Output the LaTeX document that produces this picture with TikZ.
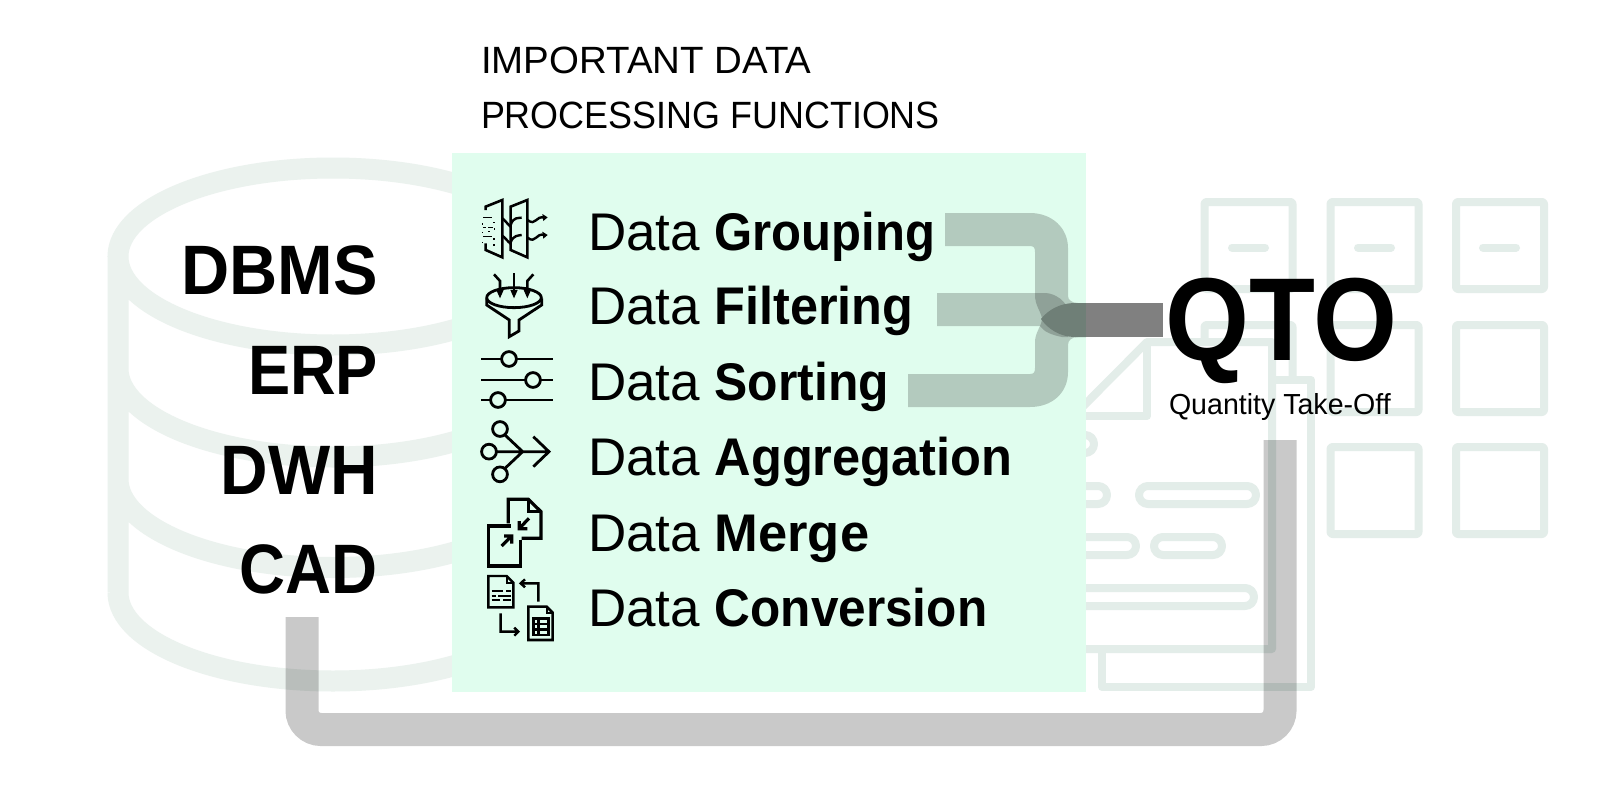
\documentclass[tikz,border=0pt]{standalone}
\usepackage{graphicx}
\usepackage{fontspec}
\setmainfont{Liberation Sans}
\definecolor{panelc}{HTML}{E0FDEE}
\definecolor{cyl}{HTML}{EBF2EE}
\definecolor{docc}{HTML}{E3EDE9}
\definecolor{mainon}{HTML}{6F7F77}
\definecolor{mainoff}{HTML}{808080}
\newcommand{\sq}[2]{\scalebox{#1}[1]{#2}}
\newcommand{\dt}[2]{Data \scalebox{#1}[1]{\textbf{#2}}}
\tikzset{
  every node/.style={inner sep=0pt,outer sep=0pt,text=black},
  cylline/.style={draw=cyl,line width=21pt},
  docline/.style={draw=docc,line width=8pt,line join=round},
  pagefill/.style={docline,fill=white},
  pill/.style={docline,rounded corners=9pt},
  conn/.style={fill=black,fill opacity=0.2},
  connline/.style={draw=black,draw opacity=0.21,line width=33pt,rounded corners=19pt},
  icon/.style={draw=black,line width=2.8pt,line join=miter},
  srcname/.style={anchor=base east,font=\fontsize{70}{70}\selectfont\bfseries},
  func/.style={anchor=base west,font=\fontsize{53}{53}\selectfont},
  heading/.style={anchor=base west,font=\fontsize{38}{38}\selectfont},
}
\begin{document}
\begin{tikzpicture}[x=1pt,y=-1pt]
\useasboundingbox (0,0) rectangle (1600,803);
\fill[white] (0,0) rectangle (1600,803);
% cylinder
\draw[cylline] (333,256.5) ellipse [x radius=215pt,y radius=88.5pt]
  (118,256.5) -- (118,592.5)
  (118,368.5) arc[start angle=180,end angle=360,x radius=215pt,y radius=88.5pt]
  (118,479) arc[start angle=180,end angle=360,x radius=215pt,y radius=88.5pt]
  (118,592.5) arc[start angle=180,end angle=360,x radius=215pt,y radius=88.5pt];
% squares
\foreach \sx/\sy in {1204.5/202,1330.5/202,1456/202,1204.5/325,1330.5/325,1456/325,1330.5/447,1456/447}
  \draw[docline,rounded corners=2pt] (\sx,\sy) rectangle +(88,87);
\foreach \sx in {1232,1358,1483}
  \draw[docc,line width=8pt,line cap=round] (\sx,247.5) -- +(33,0);
% document
\draw[pagefill] (1102,649) -- (1102,687) -- (1311,687) -- (1311,380) -- (1230,380) -- (1230,649) -- cycle;
\draw[pagefill] (1147,342) -- (1272,342) -- (1272,649) -- (1000,649) -- (1000,490) -- cycle;
\draw[docline] (1147,342) -- (1147,416) -- (1060,416);
\draw[pill] (1139,486) rectangle (1256,504);
\draw[pill] (1040,486) rectangle (1107,504);
\draw[pill] (1154,537) rectangle (1222,555);
\draw[pill] (1040,537) rectangle (1136,555);
\draw[pill] (1040,588) rectangle (1254,606);
\draw[pill] (1040,435) rectangle (1094,453);
% panel
\fill[panelc] (452,153) rectangle (1086,692);
% connectors
\coordinate (cadout) at (302,617);
\coordinate (cadbend) at (302,729.5);
\coordinate (qtobend) at (1280,729.5);
\coordinate (qtoin) at (1280,440);
\draw[connline] (cadout) -- (cadbend) -- (qtobend) -- (qtoin);
\fill[conn] (945,213) -- (1030,213) .. controls (1052,213) and (1068,228) .. (1068,248)
  -- (1068,296) .. controls (1068,300) and (1072,303) .. (1078,303) -- (1078,337)
  .. controls (1072,337) and (1068,340) .. (1068,345) -- (1068,372)
  .. controls (1068,393) and (1052,407) .. (1030,407) -- (908,407) -- (908,374) -- (1030,374)
  .. controls (1034,374) and (1035,372) .. (1035,368) -- (1035,342)
  .. controls (1035,332) and (1042,326) .. (1042,318)
  .. controls (1040,310) and (1035,305) .. (1035,295) -- (1035,252)
  .. controls (1035,248) and (1034,246) .. (1030,246) -- (945,246) -- cycle;
\fill[conn] (937,293) -- (1045,293) .. controls (1055,293) and (1068,302) .. (1068,312)
  -- (1068,337) -- (1062,337) .. controls (1052,335) and (1044,332) .. (1040,326) -- (937,326) -- cycle;
\fill[mainon] (1086,303) -- (1075,303) .. controls (1060,303) and (1048,310) .. (1041,319)
  .. controls (1048,329) and (1060,337) .. (1075,337) -- (1086,337) -- cycle;
\fill[mainoff] (1086,303) rectangle (1163,337);
% text
\node[heading] (h1) at (481,73) {\sq{1.012}{IMPORTANT DATA}};
\node[heading] (h2) at (481,128) {\sq{.945}{PROCESSING FUNCTIONS}};
\node[srcname] (dbms) at (378,294) {\sq{.953}{DBMS}};
\node[srcname] (erp) at (378,394) {\sq{.903}{ERP}};
\node[srcname] (dwh) at (378,494) {\sq{.94}{DWH}};
\node[srcname] (cad) at (378,593) {\sq{.91}{CAD}};
\node[func] (f1) at (588,250) {\dt{.925}{Grouping}};
\node[func] (f2) at (588,324.5) {\dt{.951}{Filtering}};
\node[func] (f3) at (588,400) {\dt{.94}{Sorting}};
\node[func] (f4) at (588,475.5) {\dt{.954}{Aggregation}};
\node[func] (f5) at (588,551) {\dt{.99}{Merge}};
\node[func] (f6) at (588,626.5) {\dt{.935}{Conversion}};
\node[anchor=base west,font=\fontsize{118}{118}\selectfont\bfseries] (qto) at (1165,360) {\sq{.915}{QTO}};
\node[anchor=base west,font=\fontsize{29}{29}\selectfont] (qtosub) at (1169,414) {\sq{.985}{Quantity Take-Off}};
% icons: grouping and funnel
\begin{scope}[shift={(480,195)},x=0.3333pt,y=-0.3333pt]
\draw[icon,line width=2.6pt] (17,45) -- (17,35) -- (67,15) -- (67,187) -- (17,165) -- (17,145);
\draw[icon,line width=2.6pt] (92,35) -- (142,15) -- (142,187) -- (92,165) -- cycle;
\draw[icon,line width=2.4pt] (67,70) .. controls (85,85) and (90,100) .. (92,90) .. controls (100,65) and (115,70) .. (125,68);
\draw[icon,line width=2.4pt] (67,122) .. controls (85,137) and (90,150) .. (92,142) .. controls (100,120) and (115,122) .. (125,120);
\draw[icon,line width=2.4pt] (142,75) .. controls (170,95) and (165,60) .. (195,68);
\draw[icon,line width=2.4pt] (142,128) .. controls (170,148) and (165,112) .. (195,120);
\fill (187,57) -- (203,67) -- (190,78) -- cycle;
\fill (187,110) -- (203,120) -- (190,131) -- cycle;
\foreach \dx/\dy/\dw in {8/65/28,8/95/10,25/95/14,8/122/28,28/65/4}
  \fill (\dx,\dy) rectangle +(\dw,5);
\foreach \dx/\dy in {5/85,40/80,42/100,5/110,40/130,5/140,40/148,25/108}
  \fill (\dx,\dy) rectangle +(4,4);
% funnel
\draw[icon] (102,308) ellipse [x radius=27.3pt,y radius=10pt];
\draw[icon] (20,310) -- (20,330) -- (88,375) -- (88,425) -- (117,408) -- (117,375) -- (185,330) -- (185,310);
\draw[icon,line width=2.6pt] (102,235) -- (102,298);
\draw[icon,line width=2.6pt] (42,238) -- (60,258) -- (60,298);
\draw[icon,line width=2.6pt] (160,238) -- (142,258) -- (142,298);
\foreach \ax in {60,102,142}
  \fill (\ax-11,285) -- (\ax+11,285) -- (\ax,310) -- cycle;
\end{scope}
% sliders
\draw[icon] (481,359) -- (553,359) (481,380) -- (553,380) (481,400) -- (553,400);
\foreach \cx/\cy in {509/359,533/380,498/400}
  \draw[icon,fill=panelc] (\cx,\cy) circle[radius=7.4pt];
% aggregation
\begin{scope}[shift={(450,400)},x=0.3333pt,y=-0.3333pt]
\draw[icon] (165,105) -- (218,155) -- (165,205) (138,155) -- (295,155) (250,110) -- (297,155) -- (250,200);
\foreach \cx/\cy in {150/87,117/155,150/223}
  \draw[icon] (\cx,\cy) circle[radius=7.4pt];
\end{scope}
% merge and conversion
\begin{scope}[shift={(480,490)},x=0.3333pt,y=-0.3333pt]
\draw[icon,line width=3.2pt] (85,100) -- (85,28) -- (145,28) -- (183,65) -- (183,145) -- (125,145);
\draw[icon,line width=2.6pt] (145,28) -- (145,65) -- (183,65);
\draw[icon,line width=3.2pt] (92,108) -- (25,108) -- (25,228) -- (122,228) -- (122,150);
\draw[icon,line width=3.2pt] (147,85) -- (120,113) (118,93) -- (118,116) -- (142,116);
\draw[icon,line width=3.2pt] (65,168) -- (93,140) (72,138) -- (95,138) -- (95,161);
\draw[icon,line width=2.4pt] (25,258) -- (80,258) -- (100,278) -- (100,352) -- (25,352) -- cycle;
\draw[icon,line width=2pt] (80,258) -- (80,278) -- (100,278);
\draw[icon,line width=2pt] (35,303) -- (70,303) (78,303) -- (92,303) (35,317) -- (48,317) (55,317) -- (92,317) (35,330) -- (60,330) (70,330) -- (92,330);
\draw[icon,line width=2.4pt] (175,335) -- (175,280) -- (122,280) (135,268) -- (122,280) -- (135,292);
\draw[icon,line width=2.4pt] (62,370) -- (62,425) -- (115,425) (103,413) -- (115,425) -- (103,437);
\draw[icon,line width=2.6pt] (145,350) -- (200,350) -- (218,368) -- (218,450) -- (145,450) -- cycle;
\draw[icon,line width=2pt] (200,350) -- (200,368) -- (218,368);
\draw[icon,line width=2.4pt] (160,385) rectangle (205,435) (160,402) -- (205,402) (160,418) -- (205,418) (175,385) -- (175,435);
\end{scope}
\end{tikzpicture}
\end{document}
